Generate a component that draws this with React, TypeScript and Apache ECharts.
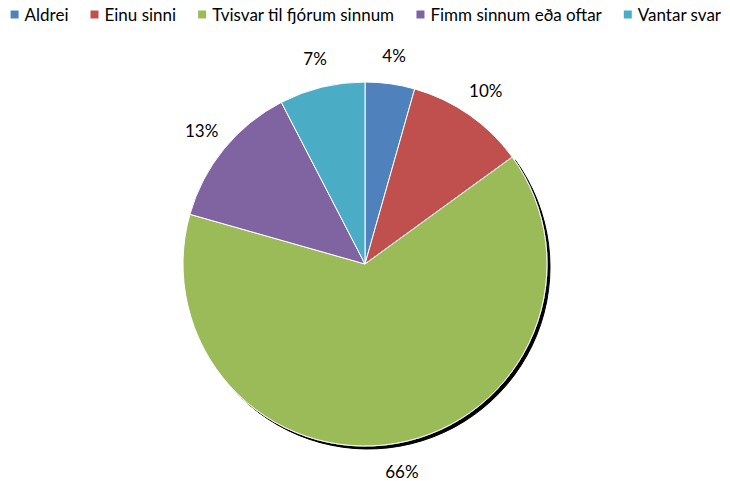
import React, { useEffect, useRef } from "react";
import * as echarts from "echarts";

const categories = ["Aldrei", "Einu sinni", "Tvisvar til fjórum sinnum", "Fimm sinnum eða oftar", "Vantar svar"];
const values = [4.4, 10.6, 64.4, 13.0, 7.6];
// percentages printed on the chart
const labelTexts = ["4%", "10%", "66%", "13%", "7%"];
const colors = ["#4F81BD", "#C0504D", "#9BBB59", "#8064A2", "#4BACC6"];

export default function App() {
  const ref = useRef<HTMLDivElement>(null);
  useEffect(() => {
    document.body.style.margin = "0";
    const chart = echarts.init(ref.current!, null, { renderer: "svg" });
    const font = "Lato";
    chart.setOption({
      animation: false,
      color: colors,
      legend: {
        top: 6,
        left: "center",
        padding: [0, 0],
        itemWidth: 10,
        itemHeight: 10,
        itemGap: 20,
        icon: "rect",
        textStyle: { fontFamily: font, fontSize: 17, color: "#000" },
        data: categories,
        selectedMode: false,
      },
      series: [
        {
          type: "pie",
          center: [365, 264],
          radius: 182,
          startAngle: 90,
          clockwise: true,
          data: categories.map((c, i) => ({
            name: c,
            value: values[i],
            itemStyle:
              i === 2
                ? { shadowColor: "rgba(0,0,0,1)", shadowOffsetX: 3, shadowOffsetY: 3, shadowBlur: 1 }
                : {},
          })),
          itemStyle: { borderColor: "#fff", borderWidth: 1 },
          label: { show: false },
          labelLine: { show: false },
          emphasis: { disabled: true },
          silent: true,
        },
        {
          type: "pie",
          center: [365, 264],
          radius: [194, 222],
          startAngle: 90,
          clockwise: true,
          data: categories.map((c, i) => ({ name: c, value: values[i] })),
          itemStyle: { color: "rgba(0,0,0,0)" },
          label: {
            show: true,
            position: "inside",
            formatter: (p: any) => labelTexts[p.dataIndex],
            fontFamily: font,
            fontSize: 17,
            color: "#000",
          },
          labelLine: { show: false },
          emphasis: { disabled: true },
          silent: true,
        },
      ],
    });
    return () => chart.dispose();
  }, []);
  return <div ref={ref} style={{ width: 730, height: 481 }} />;
}
